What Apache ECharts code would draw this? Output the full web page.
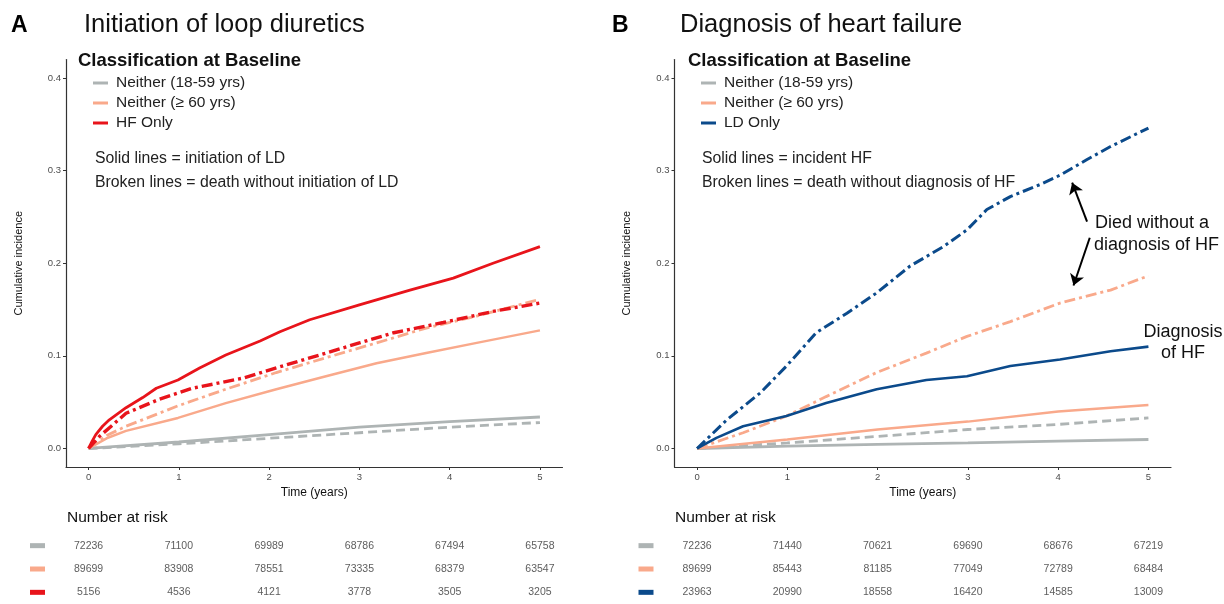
<!DOCTYPE html>
<html>
<head>
<meta charset="utf-8">
<script src="https://cdn.jsdelivr.net/npm/echarts@6/dist/echarts.min.js"></script>
<style>
html,body{margin:0;padding:0;background:#fff;}
#chart{width:1224px;height:604px;}
</style>
</head>
<body>
<div id="chart"></div>
<script>
// ---------- DATA ----------
const xTicks = [0, 1, 2, 3, 4, 5];
const yTicks = [0, 0.1, 0.2, 0.3, 0.4];
const legendA = ['Neither (18-59 yrs)', 'Neither (\u2265 60 yrs)', 'HF Only'];
const legendB = ['Neither (18-59 yrs)', 'Neither (\u2265 60 yrs)', 'LD Only'];

// Panel A: initiation of loop diuretics (solid) and death without LD (broken)
const tA_young = [0, 1, 2, 3, 4, 5];
const ldA_young = [0, 0.007, 0.015, 0.023, 0.029, 0.034];
const deathA_young = [0, 0.005, 0.011, 0.017, 0.023, 0.028];
const tA_old_ld = [0, 0.2, 0.415, 0.99, 1.52, 2.08, 2.63, 3.19, 3.74, 4.3, 5.0];
const ldA_old = [0, 0.011, 0.019, 0.033, 0.049, 0.064, 0.078, 0.092, 0.103, 0.114, 0.1275];
const tA_old_death = [0, 0.2, 0.415, 0.99, 1.52, 2.08, 2.63, 3.19, 3.74, 4.3, 5.0];
const deathA_old = [0, 0.014, 0.024, 0.046, 0.064, 0.082, 0.098, 0.114, 0.130, 0.143, 0.161];
const tA_hf_ld = [0, 0.04, 0.08, 0.155, 0.23, 0.415, 0.6, 0.75, 0.99, 1.23, 1.52, 1.9, 2.12, 2.45, 3.0, 3.56, 4.04, 4.48, 5.0];
const ldA_hf = [0, 0.008, 0.015, 0.024, 0.031, 0.044, 0.055, 0.065, 0.074, 0.087, 0.101, 0.116, 0.126, 0.139, 0.155, 0.171, 0.184, 0.200, 0.218];
const tA_hf_death = [0, 0.12, 0.415, 0.78, 1.15, 1.71, 2.08, 2.63, 3.0, 3.38, 3.93, 4.48, 5.0];
const deathA_hf = [0, 0.013, 0.038, 0.053, 0.065, 0.076, 0.087, 0.103, 0.114, 0.125, 0.136, 0.148, 0.157];

// Panel B: incident HF (solid) and death without HF (broken)
const tB_young = [0, 1, 2, 3, 4, 5];
const hfB_young = [0, 0.0025, 0.0045, 0.006, 0.008, 0.0097];
const deathB_young = [0, 0.006, 0.013, 0.0205, 0.026, 0.033];
const tB_old = [0, 1, 2, 3, 4, 5];
const hfB_old = [0, 0.0097, 0.0205, 0.029, 0.040, 0.047];
const tB_old_death = [0, 0.51, 0.99, 1.43, 1.99, 2.54, 2.99, 3.47, 4.02, 4.58, 5.0];
const deathB_old = [0, 0.017, 0.035, 0.056, 0.082, 0.103, 0.121, 0.137, 0.157, 0.171, 0.1865];
const tB_ld_hf = [0, 0.215, 0.51, 0.99, 1.43, 1.99, 2.54, 2.99, 3.47, 4.02, 4.58, 5.0];
const hfB_ld = [0, 0.0115, 0.024, 0.035, 0.049, 0.064, 0.074, 0.078, 0.089, 0.096, 0.105, 0.110];
const tB_ld_death = [0, 0.33, 0.7, 0.99, 1.32, 1.66, 1.99, 2.36, 2.73, 2.99, 3.21, 3.47, 3.8, 4.02, 4.32, 4.58, 5.0];
const deathB_ld = [0, 0.031, 0.060, 0.089, 0.125, 0.146, 0.168, 0.197, 0.218, 0.236, 0.258, 0.272, 0.285, 0.295, 0.312, 0.326, 0.346];

// Number at risk
const riskTimes = [0, 1, 2, 3, 4, 5];
const riskA_young = [72236, 71100, 69989, 68786, 67494, 65758];
const riskA_old = [89699, 83908, 78551, 73335, 68379, 63547];
const riskA_hf = [5156, 4536, 4121, 3778, 3505, 3205];
const riskB_young = [72236, 71440, 70621, 69690, 68676, 67219];
const riskB_old = [89699, 85443, 81185, 77049, 72789, 68484];
const riskB_ld = [23963, 20990, 18558, 16420, 14585, 13009];

// Annotation arrows (panel B, data coordinates)
const arrowUp = [[4.32, 0.245], [4.155, 0.287]];
const arrowDown = [[4.35, 0.2275], [4.17, 0.176]];

// ---------- STYLE ----------
const FONT = '"Liberation Sans", Arial, Helvetica, sans-serif';
const C_GRAY = '#AEB4B4';
const C_SALMON = '#F9A98B';
const C_RED = '#E8141B';
const C_BLUE = '#0B4A8B';
const DASH = [11, 4, 3, 4];
const DASH_GRAY = [9, 5];

const zip = (t, v) => t.map((x, i) => [x, v[i]]);

function lineSeries(name, idx, t, v, color, width, type) {
  return {
    type: 'line', name: name, xAxisIndex: idx, yAxisIndex: idx,
    data: zip(t, v), showSymbol: false, symbol: 'none', smooth: false,
    lineStyle: { color: color, width: width, type: type, cap: 'butt' },
    itemStyle: { color: color },
    silent: true, z: 3
  };
}

function riskSeries(idx, rows) {
  const data = [];
  rows.forEach((r, ri) => r.forEach((n, ti) => data.push([riskTimes[ti], ri, n])));
  return {
    type: 'scatter', xAxisIndex: idx, yAxisIndex: idx, data: data,
    symbol: 'circle', symbolSize: 2, itemStyle: { color: 'rgba(0,0,0,0)' }, silent: true,
    label: { show: true, position: 'inside', formatter: p => String(p.value[2]),
      color: '#333', fontSize: 10.5, fontFamily: FONT }
  };
}

const plotX = (gi) => ({
  type: 'value', gridIndex: gi, min: -0.25, max: 5.25,
  name: 'Time (years)', nameLocation: 'middle', nameGap: 16,
  nameTextStyle: { color: '#111', fontSize: 12, fontFamily: FONT },
  axisLine: { show: true, onZero: false, lineStyle: { color: '#333', width: 1.2 } },
  axisTick: { show: true, length: 3, lineStyle: { color: '#333' }, customValues: xTicks },
  axisLabel: { show: true, color: '#4D4D4D', fontSize: 9.5, fontFamily: FONT, margin: 5, customValues: xTicks },
  splitLine: { show: false }
});
const plotY = (gi) => ({
  type: 'value', gridIndex: gi, min: -0.02, max: 0.42,
  name: 'Cumulative incidence', nameLocation: 'middle', nameGap: 42, nameRotate: 90,
  nameTextStyle: { color: '#111', fontSize: 11, fontFamily: FONT },
  axisLine: { show: true, onZero: false, lineStyle: { color: '#333', width: 1.2 } },
  axisTick: { show: true, length: 3, lineStyle: { color: '#333' }, customValues: yTicks },
  axisLabel: { show: true, color: '#4D4D4D', fontSize: 9.5, fontFamily: FONT, margin: 5,
    customValues: yTicks, formatter: v => v.toFixed(1) },
  splitLine: { show: false }
});
const riskX = (gi) => ({
  type: 'value', gridIndex: gi, min: -0.25, max: 5.25,
  axisLine: { show: false }, axisTick: { show: false }, axisLabel: { show: false }, splitLine: { show: false }
});
const riskY = (gi, colors) => ({
  type: 'category', gridIndex: gi, data: ['0', '1', '2'], inverse: true,
  axisLine: { show: false }, axisTick: { show: false }, splitLine: { show: false },
  axisLabel: { show: true, margin: 21, formatter: (v, i) => '{s' + i + '|}',
    rich: {
      s0: { backgroundColor: colors[0], width: 15, height: 5 },
      s1: { backgroundColor: colors[1], width: 15, height: 5 },
      s2: { backgroundColor: colors[2], width: 15, height: 5 }
    } }
});

const legendCommon = {
  orient: 'vertical', top: 75, padding: 0, itemGap: 4, itemWidth: 15, itemHeight: 3, icon: 'rect',
  selectedMode: false,
  textStyle: { fontSize: 15.5, lineHeight: 16, color: '#222', fontFamily: FONT, padding: [0, 0, 0, 3] }
};

function txt(x, y, text, size, opts) {
  opts = opts || {};
  return {
    type: 'text', x: x, y: y, silent: true,
    style: { text: text, fill: opts.fill || '#111', fontSize: size, fontFamily: FONT,
      fontWeight: opts.bold ? 'bold' : 'normal', verticalAlign: 'middle', align: opts.align || 'left' }
  };
}

const option = {
  animation: false,
  backgroundColor: '#ffffff',
  grid: [
    { left: 66, top: 59.5, width: 496.5, height: 407.5 },
    { left: 674.5, top: 59.5, width: 496.5, height: 407.5 },
    { left: 66, top: 534, width: 496.5, height: 70 },
    { left: 674.5, top: 534, width: 496.5, height: 70 }
  ],
  xAxis: [plotX(0), plotX(1), riskX(2), riskX(3)],
  yAxis: [plotY(0), plotY(1), riskY(2, [C_GRAY, C_SALMON, C_RED]), riskY(3, [C_GRAY, C_SALMON, C_BLUE])],
  legend: [
    Object.assign({}, legendCommon, { left: 93, data: legendA }),
    Object.assign({}, legendCommon, { left: 701, data: legendB })
  ],
  series: [
    // Panel A
    lineSeries('Neither (18-59 yrs)', 0, tA_young, ldA_young, C_GRAY, 2.8, 'solid'),
    lineSeries('A death 18-59', 0, tA_young, deathA_young, C_GRAY, 2.8, DASH_GRAY),
    lineSeries('Neither (\u2265 60 yrs)', 0, tA_old_ld, ldA_old, C_SALMON, 2.5, 'solid'),
    lineSeries('A death 60+', 0, tA_old_death, deathA_old, C_SALMON, 2.8, DASH),
    lineSeries('HF Only', 0, tA_hf_ld, ldA_hf, C_RED, 2.8, 'solid'),
    lineSeries('A death HF', 0, tA_hf_death, deathA_hf, C_RED, 3.4, DASH),
    // Panel B
    lineSeries('Neither (18-59 yrs)', 1, tB_young, hfB_young, C_GRAY, 2.8, 'solid'),
    lineSeries('B death 18-59', 1, tB_young, deathB_young, C_GRAY, 2.8, DASH_GRAY),
    lineSeries('Neither (\u2265 60 yrs)', 1, tB_old, hfB_old, C_SALMON, 2.5, 'solid'),
    lineSeries('B death 60+', 1, tB_old_death, deathB_old, C_SALMON, 2.8, DASH),
    lineSeries('LD Only', 1, tB_ld_hf, hfB_ld, C_BLUE, 2.6, 'solid'),
    Object.assign(lineSeries('B death LD', 1, tB_ld_death, deathB_ld, C_BLUE, 3, DASH), {
      markLine: {
        silent: true, symbol: ['none', 'arrow'], symbolSize: 11, precision: 4,
        itemStyle: { color: '#000' },
        lineStyle: { color: '#000', width: 2, type: 'solid' },
        label: { show: false },
        emphasis: { disabled: true },
        data: [
          [{ coord: arrowUp[0] }, { coord: arrowUp[1] }],
          [{ coord: arrowDown[0] }, { coord: arrowDown[1] }]
        ]
      }
    }),
    // Risk tables
    riskSeries(2, [riskA_young, riskA_old, riskA_hf]),
    riskSeries(3, [riskB_young, riskB_old, riskB_ld])
  ],
  graphic: [
    txt(11, 26, 'A', 23, { bold: true, fill: '#000' }),
    txt(84, 25, 'Initiation of loop diuretics', 25.5),
    txt(612, 26, 'B', 23, { bold: true, fill: '#000' }),
    txt(680, 25, 'Diagnosis of heart failure', 25.5),
    txt(78, 61, 'Classification at Baseline', 18.5, { bold: true }),
    txt(688, 61, 'Classification at Baseline', 18.5, { bold: true }),
    txt(95, 159, 'Solid lines = initiation of LD', 15.8, { fill: '#222' }),
    txt(95, 183, 'Broken lines = death without initiation of LD', 15.8, { fill: '#222' }),
    txt(702, 159, 'Solid lines = incident HF', 15.8, { fill: '#222' }),
    txt(702, 183, 'Broken lines = death without diagnosis of HF', 15.8, { fill: '#222' }),
    txt(1095, 223, 'Died without a', 18),
    txt(1094, 245, 'diagnosis of HF', 18),
    txt(1183, 332, 'Diagnosis', 18, { align: 'center' }),
    txt(1183, 353, 'of HF', 18, { align: 'center' }),
    txt(67, 518, 'Number at risk', 15.5),
    txt(675, 518, 'Number at risk', 15.5)
  ]
};

const chart = echarts.init(document.getElementById('chart'), null, { renderer: 'canvas' });
chart.setOption(option);
</script>
</body>
</html>
